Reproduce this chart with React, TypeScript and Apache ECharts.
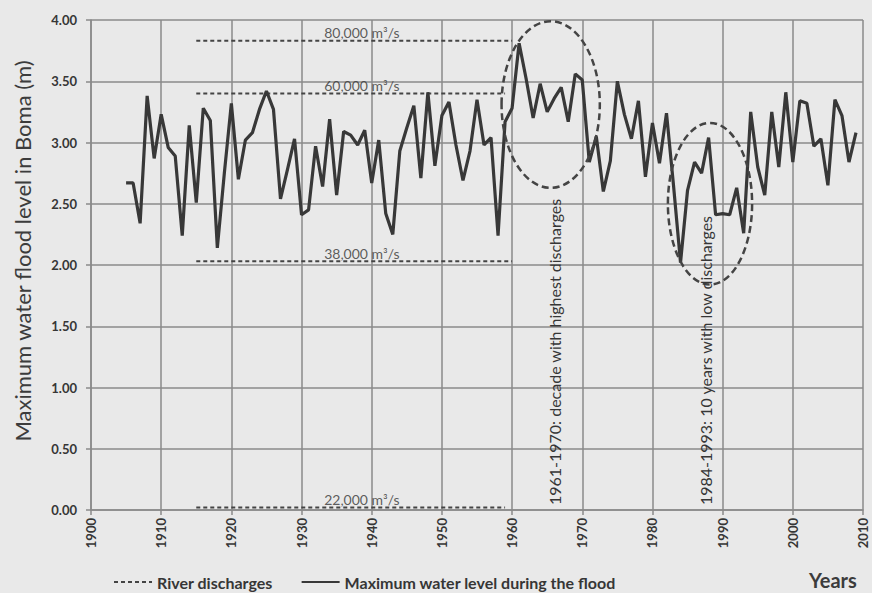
import React, { useEffect, useRef } from 'react';
import * as echarts from 'echarts';

const years = [
  1905, 1906, 1907, 1908, 1909, 1910, 1911, 1912, 1913, 1914, 1915, 1916, 1917, 1918, 1919,
  1920, 1921, 1922, 1923, 1924, 1925, 1926, 1927, 1928, 1929, 1930, 1931, 1932, 1933, 1934,
  1935, 1936, 1937, 1938, 1939, 1940, 1941, 1942, 1943, 1944, 1945, 1946, 1947, 1948, 1949,
  1950, 1951, 1952, 1953, 1954, 1955, 1956, 1957, 1958, 1959, 1960, 1961, 1962, 1963, 1964,
  1965, 1966, 1967, 1968, 1969, 1970, 1971, 1972, 1973, 1974, 1975, 1976, 1977, 1978, 1979,
  1980, 1981, 1982, 1983, 1984, 1985, 1986, 1987, 1988, 1989, 1990, 1991, 1992, 1993, 1994,
  1995, 1996, 1997, 1998, 1999, 2000, 2001, 2002, 2003, 2004, 2005, 2006, 2007, 2008, 2009,
];

const waterLevel = [
  2.67, 2.67, 2.34, 3.38, 2.87, 3.23, 2.96, 2.89, 2.24, 3.14, 2.51, 3.28, 3.18, 2.14, 2.75,
  3.32, 2.70, 3.02, 3.08, 3.27, 3.42, 3.27, 2.54, 2.78, 3.03, 2.41, 2.45, 2.97, 2.64, 3.19,
  2.57, 3.09, 3.06, 2.98, 3.10, 2.67, 3.02, 2.42, 2.25, 2.93, 3.12, 3.30, 2.71, 3.41, 2.81,
  3.22, 3.33, 2.98, 2.69, 2.93, 3.35, 2.98, 3.04, 2.24, 3.17, 3.28, 3.81, 3.52, 3.20, 3.48,
  3.25, 3.36, 3.45, 3.17, 3.56, 3.51, 2.84, 3.05, 2.60, 2.85, 3.50, 3.23, 3.03, 3.34, 2.72,
  3.16, 2.83, 3.24, 2.65, 2.02, 2.61, 2.84, 2.75, 3.04, 2.41, 2.42, 2.41, 2.63, 2.26, 3.25,
  2.80, 2.57, 3.25, 2.80, 3.41, 2.84, 3.34, 3.32, 2.97, 3.03, 2.65, 3.35, 3.22, 2.84, 3.08,
];

const dischargeLabels = ['80,000 m³/s', '60,000 m³/s', '38,000 m³/s', '22,000 m³/s'];
const dischargeLevels = [3.83, 3.40, 2.03, 0.02];
const dischargeStart = [1915, 1915, 1915, 1915];
const dischargeEnd = [1960, 1959, 1960, 1959];
const dischargeLabelYear = 1938.6;

const annotationTexts = [
  '1961-1970: decade with highest discharges',
  '1984-1993: 10 years with low discharges',
];
const annotationAnchors = [
  [1966.1, 0.04],
  [1987.6, 0.04],
];
const ellipseCenters = [
  [1965.5, 3.31],
  [1988.2, 2.5],
];
const ellipseRadii = [
  [7.0, 0.68],
  [6.0, 0.66],
];

const FONT = 'Lato, "Open Sans", sans-serif';
const TEXT = '#363636';
const GRID = '#8a8a8a';

export default function App() {
  const ref = useRef<HTMLDivElement>(null);

  useEffect(() => {
    if (!ref.current) return;
    const chart = echarts.init(ref.current, null, { renderer: 'svg' });

    const dischargeSeries = dischargeLevels.map((lvl, i) => ({
      type: 'line',
      name: 'River discharges',
      data: [
        [dischargeStart[i], lvl],
        [dischargeEnd[i], lvl],
      ],
      symbol: 'none',
      showSymbol: false,
      silent: true,
      z: 2,
      lineStyle: { color: '#444444', width: 2, type: [4, 3] },
      itemStyle: { color: '#444444' },
    }));

    const option: any = {
      animation: false,
      backgroundColor: '#e9e9e9',
      grid: { left: 91, right: 9, top: 20, bottom: 83, containLabel: false },
      xAxis: {
        type: 'value',
        min: 1900,
        max: 2010,
        interval: 10,
        axisLine: { show: true, lineStyle: { color: GRID, width: 1.5 } },
        axisTick: { show: true, length: 5, lineStyle: { color: GRID, width: 1.5 } },
        splitLine: { show: true, lineStyle: { color: GRID, width: 1.5 } },
        axisLabel: {
          rotate: 90,
          margin: 8,
          color: TEXT,
          fontWeight: 'bold',
          fontSize: 13,
          fontFamily: FONT,
          formatter: (v: number) => String(v),
        },
      },
      yAxis: {
        type: 'value',
        min: 0,
        max: 4,
        interval: 0.5,
        axisLine: { show: true, lineStyle: { color: GRID, width: 1.5 } },
        axisTick: { show: true, length: 5, lineStyle: { color: GRID, width: 1.5 } },
        splitLine: { show: true, lineStyle: { color: GRID, width: 1.5 } },
        axisLabel: {
          margin: 14,
          color: TEXT,
          fontWeight: 'bold',
          fontSize: 13,
          fontFamily: FONT,
          formatter: (v: number) => v.toFixed(2),
        },
      },
      legend: {
        left: 108,
        top: 569,
        itemWidth: 38,
        itemHeight: 10,
        itemGap: 28,
        itemStyle: { opacity: 0 },
        textStyle: { color: TEXT, fontWeight: 'bold', fontSize: 16, fontFamily: FONT },
        data: ['River discharges', 'Maximum water level during the flood'],
      },
      series: [
        ...dischargeSeries,
        {
          type: 'scatter',
          name: 'labels',
          silent: true,
          symbolSize: 0,
          z: 4,
          data: dischargeLabels.map((l, i) => ({ name: l, value: [dischargeLabelYear, dischargeLevels[i]] })),
          label: {
            show: true,
            position: 'top',
            distance: 1,
            color: TEXT,
            fontSize: 14,
            fontFamily: FONT,
            formatter: (p: any) => p.name,
          },
        },
        {
          type: 'line',
          name: 'Maximum water level during the flood',
          data: years.map((y, i) => [y, waterLevel[i]]),
          symbol: 'none',
          showSymbol: false,
          z: 3,
          lineStyle: { color: '#383838', width: 3.2 },
          itemStyle: { color: '#383838' },
        },
      ],
    };

    chart.setOption(option);

    const toPx = (p: number[]) => chart.convertToPixel({ xAxisIndex: 0, yAxisIndex: 0 }, p) as number[];

    const ellipses = ellipseCenters.map((c, i) => {
      const p = toPx(c);
      const q = toPx([c[0] + ellipseRadii[i][0], c[1] + ellipseRadii[i][1]]);
      return {
        type: 'ellipse',
        silent: true,
        z: 10,
        shape: { cx: p[0], cy: p[1], rx: q[0] - p[0], ry: p[1] - q[1] },
        style: { fill: 'none', stroke: '#444444', lineWidth: 2.5, lineDash: [7, 4] },
      };
    });

    const texts = annotationTexts.map((t, i) => {
      const p = toPx(annotationAnchors[i]);
      return {
        type: 'text',
        silent: true,
        z: 10,
        x: p[0],
        y: p[1],
        rotation: Math.PI / 2,
        style: {
          text: t,
          fill: TEXT,
          fontSize: 16,
          fontFamily: FONT,
          align: 'left',
          verticalAlign: 'middle',
        },
      };
    });

    chart.setOption({
      graphic: [
        ...ellipses,
        ...texts,
        {
          type: 'text',
          silent: true,
          x: 22,
          y: 251,
          rotation: Math.PI / 2,
          style: {
            text: 'Maximum water flood level in Boma (m)',
            fill: '#3c3c3c',
            fontSize: 22,
            fontFamily: FONT,
            align: 'center',
            verticalAlign: 'middle',
          },
        },
        {
          type: 'text',
          silent: true,
          x: 809,
          y: 580,
          style: {
            text: 'Years',
            fill: '#3c3c3c',
            fontSize: 20,
            fontWeight: 'bold',
            fontFamily: FONT,
            align: 'left',
            verticalAlign: 'middle',
          },
        },
      ],
    });

    return () => chart.dispose();
  }, []);

  return <div ref={ref} style={{ position: 'absolute', left: 0, top: 0, width: 872, height: 593 }} />;
}
